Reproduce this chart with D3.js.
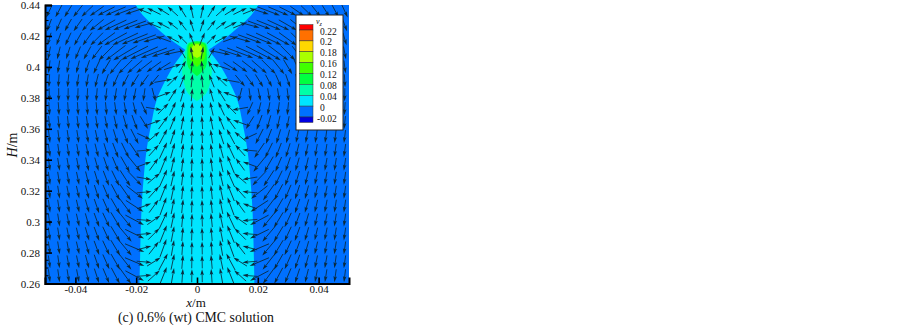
<!DOCTYPE html>
<html>
<head>
<meta charset="utf-8">
<title>CMC solution velocity field</title>
<script src="https://cdn.jsdelivr.net/npm/d3@7/dist/d3.min.js"></script>
<style>
  html, body { margin: 0; padding: 0; background: #fff; }
  svg { display: block; }
  text { font-family: 'Liberation Serif', 'Times New Roman', serif; fill: #111; }
</style>
</head>
<body>
<div id="chart"></div>
<script>
// tick labels
const xTicks = [-0.04, -0.02, 0, 0.02, 0.04]
const yTicks = [0.26, 0.28, 0.3, 0.32, 0.34, 0.36, 0.38, 0.4, 0.42, 0.44]
const yMinorTicks = [0.265, 0.27, 0.275, 0.285, 0.29, 0.295, 0.305, 0.31, 0.315, 0.325, 0.33, 0.335, 0.345, 0.35, 0.355, 0.365, 0.37, 0.375, 0.385, 0.39, 0.395, 0.405, 0.41, 0.415, 0.425, 0.43, 0.435]

// legend
const legendLabels = ['0.22', '0.2', '0.18', '0.16', '0.12', '0.08', '0.04', '0', '-0.02']
const legendColors = ['#ff0000', '#ff7000', '#ffd800', '#aaff00', '#40ff00', '#00ff40', '#00ffa8', '#00e5ff', '#0070ff', '#0000e0']

// contour half widths (m) against height H (m), the field is symmetric about x = 0
const jetH = [0.26, 0.3073, 0.3267, 0.3461, 0.3636, 0.3785, 0.3914, 0.4025, 0.4109]
const jetW = [0.0189, 0.01826, 0.0176, 0.0166, 0.015, 0.0133, 0.01036, 0.00707, 0.0038]
const bubbleH = [0.4109, 0.4186, 0.4251, 0.4329, 0.44]
const bubbleW = [0.0038, 0.0094, 0.0133, 0.0176, 0.0202]
const level08H = [0.4168, 0.4155, 0.4122, 0.4058, 0.3993, 0.3896, 0.383, 0.3778]
const level08W = [0, 0.003, 0.0036, 0.0043, 0.0049, 0.0043, 0.003, 0]
const level12H = [0.4165, 0.4148, 0.409, 0.4, 0.394]
const level12W = [0, 0.0028, 0.0032, 0.0029, 0]
const level16H = [0.4158, 0.4142, 0.41, 0.4055, 0.4]
const level16W = [0, 0.0024, 0.0028, 0.0025, 0]
const level18H = [0.4148, 0.4135, 0.4103, 0.407, 0.4058]
const level18W = [0, 0.0014, 0.0017, 0.0011, 0]

// arrow grid, left half only, right half is drawn mirrored
const arrowX = [-0.0486, -0.0455, -0.0424, -0.0392, -0.0361, -0.033, -0.0299, -0.0268, -0.0236, -0.0205, -0.0174, -0.0142, -0.0111, -0.008, -0.0048, -0.0017]
const arrowH = [0.436, 0.427, 0.418, 0.409, 0.4, 0.391, 0.382, 0.373, 0.364, 0.355, 0.346, 0.337, 0.328, 0.319, 0.31, 0.301, 0.292, 0.283, 0.274, 0.265]

// compass heading of each arrow, degrees, rows follow arrowH, columns follow arrowX
const arrowHeading = [
  [205, 208, 212, 218, 226, 235, 243, 247, 249, 252, 292, 296, 302, 312, 328, 348],
  [200, 204, 209, 215, 222, 231, 240, 245, 248, 250, 255, 292, 298, 308, 322, 342],
  [196, 200, 205, 210, 216, 225, 234, 241, 245, 248, 250, 254, 290, 298, 315, 338],
  [191, 194, 198, 203, 209, 217, 225, 233, 239, 243, 246, 249, 252, 258, 330, 350],
  [187, 189, 191, 194, 199, 205, 211, 219, 225, 229, 232, 234, 238, 72, 30, 8],
  [183, 184, 186, 188, 190, 194, 199, 204, 208, 212, 216, 220, 80, 45, 22, 6],
  [179, 180, 181, 182, 183, 185, 187, 189, 190, 191, 188, 165, 70, 32, 16, 5],
  [176, 176, 176, 176, 176, 175, 174, 172, 170, 166, 156, 100, 45, 25, 13, 4],
  [174, 174, 174, 173, 172, 171, 169, 167, 164, 160, 148, 70, 36, 22, 11, 4],
  [173, 173, 172, 171, 170, 168, 166, 163, 159, 153, 115, 50, 28, 18, 9, 3],
  [172, 172, 171, 170, 168, 166, 163, 159, 154, 146, 85, 42, 25, 15, 8, 3],
  [172, 171, 170, 169, 167, 164, 161, 157, 150, 141, 70, 36, 22, 13, 7, 2],
  [172, 171, 170, 168, 166, 163, 159, 154, 147, 136, 100, 50, 24, 13, 7, 2],
  [172, 171, 169, 167, 165, 162, 157, 152, 145, 128, 85, 42, 22, 12, 6, 2],
  [172, 171, 169, 167, 164, 161, 156, 150, 143, 123, 70, 36, 20, 11, 6, 2],
  [172, 171, 169, 167, 164, 160, 155, 149, 141, 118, 95, 55, 25, 12, 6, 2],
  [172, 171, 169, 167, 164, 160, 155, 149, 140, 116, 85, 45, 22, 11, 5, 2],
  [172, 171, 170, 167, 164, 160, 155, 149, 140, 113, 75, 38, 20, 10, 4, 1],
  [172, 172, 170, 168, 165, 161, 156, 150, 142, 113, 95, 58, 28, 12, 5, 1],
  [173, 172, 171, 169, 166, 162, 157, 152, 144, 118, 85, 48, 22, 10, 4, 1]
]

// relative speed of each arrow, same layout
const arrowSpeed = [
  [14, 14, 14, 15, 16, 17, 19, 22, 24, 20, 15, 15, 14, 14, 14, 14],
  [13, 14, 14, 15, 16, 18, 21, 24, 26, 24, 20, 15, 14, 13, 13, 13],
  [13, 13, 14, 15, 16, 18, 22, 26, 28, 28, 25, 22, 16, 14, 13, 14],
  [13, 13, 13, 14, 15, 17, 21, 25, 28, 30, 30, 28, 24, 18, 12, 13],
  [13, 13, 13, 13, 14, 15, 17, 19, 20, 20, 20, 18, 17, 18, 14, 13],
  [13, 13, 13, 13, 13, 14, 14, 14, 14, 15, 15, 15, 18, 15, 14, 13],
  [13, 13, 13, 13, 13, 13, 13, 13, 13, 13, 13, 14, 16, 15, 14, 13],
  [13, 13, 13, 13, 13, 13, 13, 13, 13, 13, 14, 16, 15, 15, 14, 13],
  [13, 13, 13, 13, 13, 13, 13, 14, 15, 16, 15, 15, 16, 15, 14, 13],
  [13, 13, 13, 13, 13, 13, 14, 15, 16, 17, 15, 15, 17, 16, 14, 13],
  [13, 13, 13, 13, 13, 14, 15, 16, 17, 18, 15, 15, 18, 16, 14, 13],
  [13, 13, 13, 13, 14, 14, 15, 16, 18, 19, 15, 15, 19, 16, 14, 13],
  [13, 13, 13, 13, 14, 15, 16, 17, 19, 20, 15, 16, 19, 16, 14, 13],
  [13, 13, 13, 13, 14, 15, 16, 18, 20, 21, 15, 16, 19, 16, 14, 13],
  [13, 13, 13, 13, 14, 15, 16, 18, 20, 21, 15, 16, 19, 16, 14, 13],
  [13, 13, 13, 13, 14, 15, 16, 18, 20, 21, 15, 16, 19, 16, 14, 13],
  [13, 13, 13, 13, 14, 15, 16, 18, 20, 21, 15, 16, 19, 16, 14, 13],
  [13, 13, 13, 13, 14, 15, 16, 18, 20, 21, 15, 16, 19, 16, 14, 13],
  [13, 13, 13, 13, 14, 15, 16, 18, 20, 21, 15, 16, 19, 16, 14, 13],
  [13, 13, 13, 13, 14, 15, 16, 18, 20, 21, 15, 16, 19, 16, 14, 13]
]

const width = 903
const height = 325
const margin = { top: 5, right: 554, bottom: 41.5, left: 45 }
const innerW = width - margin.left - margin.right
const innerH = height - margin.top - margin.bottom

const svg = d3.select('#chart').append('svg').attr('width', width).attr('height', height)
const defs = svg.append('defs')
defs.append('clipPath').attr('id', 'plot-clip')
  .append('rect').attr('width', innerW).attr('height', innerH)

const g = svg.append('g').attr('transform', `translate(${margin.left},${margin.top})`)
const x = d3.scaleLinear().domain([-0.05, 0.05]).range([0, innerW])
const y = d3.scaleLinear().domain([0.26, 0.44]).range([innerH, 0])

const plot = g.append('g').attr('clip-path', 'url(#plot-clip)')
plot.append('rect').attr('width', innerW).attr('height', innerH).attr('fill', legendColors[8])

// closed shape from a half profile, walking up the right side and down the left
function mirrored(hs, ws) {
  const right = hs.map((h, i) => [x(ws[i]), y(h)])
  const left = hs.map((h, i) => [x(-ws[i]), y(h)]).reverse()
  return right.concat(left)
}
const smooth = d3.line().curve(d3.curveCatmullRomClosed.alpha(0.5))
const openLine = d3.line().curve(d3.curveCatmullRom.alpha(0.5))

// cyan body: both outlines are open at their flat ends so they stay square to the frame
function openShape(hs, ws) {
  const right = openLine(hs.map((h, i) => [x(ws[i]), y(h)]))
  const left = openLine(hs.map((h, i) => [x(-ws[i]), y(h)]).reverse())
  return right + left.replace(/^M/, 'L') + 'Z'
}
plot.append('path').attr('d', openShape(jetH, jetW)).attr('fill', legendColors[7])
plot.append('path').attr('d', openShape(bubbleH, bubbleW)).attr('fill', legendColors[7])
plot.append('rect')
  .attr('x', x(-bubbleW[0]))
  .attr('y', y(bubbleH[0] + 0.001))
  .attr('width', x(bubbleW[0]) - x(-bubbleW[0]))
  .attr('height', y(jetH[jetH.length - 1] - 0.001) - y(bubbleH[0] + 0.001))
  .attr('fill', legendColors[7])

const levels = [
  [level08H, level08W, legendColors[6]],
  [level12H, level12W, legendColors[5]],
  [level16H, level16W, legendColors[4]],
  [level18H, level18W, legendColors[3]]
]
for (const [hs, ws, color] of levels) {
  plot.append('path').attr('d', smooth(mirrored(hs, ws))).attr('fill', color)
}

// arrows
const arrows = []
arrowH.forEach((h, r) => {
  arrowX.forEach((ax, c) => {
    arrows.push({ x: ax, h, heading: arrowHeading[r][c], speed: arrowSpeed[r][c] })
    arrows.push({ x: -ax, h, heading: 360 - arrowHeading[r][c], speed: arrowSpeed[r][c] })
  })
})
plot.append('g').selectAll('g').data(arrows).join('g')
  .attr('transform', d => `translate(${x(d.x)},${y(d.h)}) rotate(${d.heading})`)
  .each(function (d) {
    const node = d3.select(this)
    node.append('line')
      .attr('y1', d.speed / 2).attr('y2', -d.speed / 2 + 3)
      .attr('stroke', '#0a2a3c').attr('stroke-width', 0.8)
    node.append('path')
      .attr('d', `M0,${-d.speed / 2}L1.8,${-d.speed / 2 + 6}L0,${-d.speed / 2 + 4.8}L-1.8,${-d.speed / 2 + 6}Z`)
      .attr('fill', '#0a2a3c')
  })

// axes, ticks point into the plot
const tickText = d => String(d)
const xAxis = d3.axisBottom(x).tickValues(xTicks).tickFormat(tickText).tickSize(-6).tickPadding(2)
const yAxis = d3.axisLeft(y).tickValues(yTicks).tickFormat(tickText).tickSize(-7).tickPadding(5)
const gx = g.append('g').attr('transform', `translate(0,${innerH})`).call(xAxis)
const gy = g.append('g').call(yAxis)
g.append('g').selectAll('line').data(yMinorTicks).join('line')
  .attr('x1', 0).attr('x2', 3.5)
  .attr('y1', d => y(d)).attr('y2', d => y(d))
  .attr('stroke', '#000').attr('stroke-width', 1)
for (const axis of [gx, gy]) {
  axis.selectAll('text').attr('font-size', 11).attr('fill', '#111')
  axis.selectAll('line').attr('stroke', '#000').attr('stroke-width', 1.6)
  axis.select('.domain').attr('stroke', '#000').attr('stroke-width', 2)
}

// axis titles and caption
const xTitle = svg.append('text').attr('x', 196).attr('y', 306.5).attr('text-anchor', 'middle').attr('font-size', 13)
xTitle.append('tspan').attr('font-style', 'italic').text('x')
xTitle.append('tspan').text('/m')
const yTitle = svg.append('text').attr('transform', 'translate(17,145) rotate(-90)').attr('text-anchor', 'middle').attr('font-size', 14)
yTitle.append('tspan').attr('font-style', 'italic').text('H')
yTitle.append('tspan').text('/m')
svg.append('text').attr('x', 196).attr('y', 322).attr('text-anchor', 'middle').attr('font-size', 13.8)
  .text('(c) 0.6% (wt) CMC solution')

// legend box
const legend = svg.append('g')
legend.append('rect').attr('x', 296).attr('y', 15).attr('width', 47).attr('height', 115)
  .attr('fill', '#fff').attr('stroke', '#222').attr('stroke-width', 1)
const legendY = d3.scalePoint().domain(legendLabels).range([30, 117])
const cellStep = legendY.step()
legendColors.forEach((color, i) => {
  const top = i === 0 ? legendY(legendLabels[0]) - cellStep / 2 : legendY(legendLabels[i - 1])
  const bottom = i === legendColors.length - 1 ? legendY(legendLabels[i - 1]) + cellStep / 2 : legendY(legendLabels[i])
  legend.append('rect').attr('x', 299.5).attr('y', top).attr('width', 13.5).attr('height', bottom - top)
    .attr('fill', color).attr('stroke', '#333').attr('stroke-width', 0.5)
})
legend.selectAll('text.lab').data(legendLabels).join('text').attr('class', 'lab')
  .attr('x', d => d.startsWith('-') ? 317 : 320).attr('y', d => legendY(d) + 4.5).attr('font-size', 9.5).text(d => d)
const legendTitle = legend.append('text').attr('x', 316).attr('y', 24).attr('font-size', 8).attr('font-style', 'italic')
legendTitle.append('tspan').text('v')
legendTitle.append('tspan').attr('font-size', 6).attr('dy', 1.5).text('z')
</script>
</body>
</html>
